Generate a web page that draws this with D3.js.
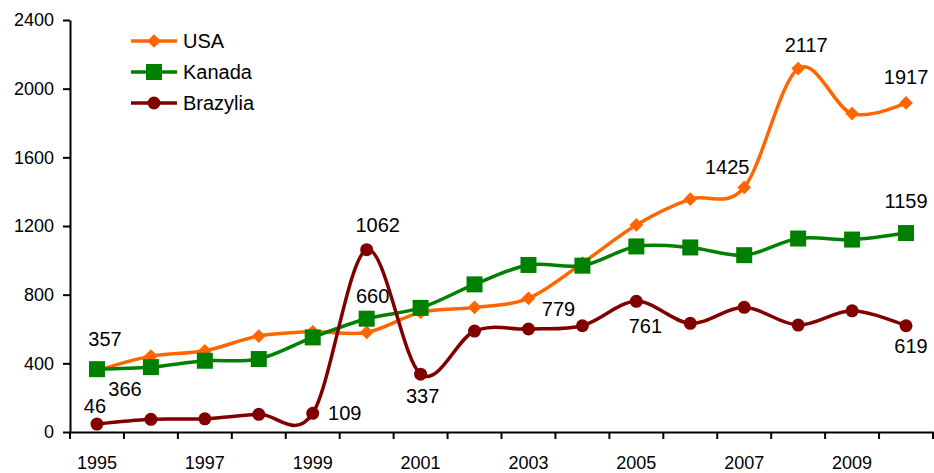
<!DOCTYPE html>
<html>
<head>
<meta charset="utf-8">
<script src="https://cdn.jsdelivr.net/npm/d3@7"></script>
<style>
  html, body { margin: 0; padding: 0; background: #fff; }
  svg { display: block; }
  svg text { font-family: "Liberation Sans", Arial, sans-serif; }
</style>
</head>
<body>
<svg id="chart"></svg>
<script>
const years = [1995, 1996, 1997, 1998, 1999, 2000, 2001, 2002, 2003, 2004, 2005, 2006, 2007, 2008, 2009, 2010];
const usa = [357, 442, 473, 559, 584, 580, 697, 726, 779, 984, 1206, 1356, 1425, 2117, 1855, 1917];
const kanada = [366, 378, 415, 425, 551, 660, 723, 860, 973, 969, 1081, 1075, 1030, 1127, 1121, 1159];
const brazylia = [46, 74, 77, 103, 109, 1062, 337, 588, 600, 619, 761, 633, 726, 623, 706, 619];
const yTicks = [0, 400, 800, 1200, 1600, 2000, 2400];

const series = [
  { name: 'USA', values: usa, color: '#FF6600', marker: 'diamond' },
  { name: 'Kanada', values: kanada, color: '#008000', marker: 'square' },
  { name: 'Brazylia', values: brazylia, color: '#800000', marker: 'circle' }
];

// which points carry a value label, and where the label sits relative to the point
const labels = [
  { s: 0, i: 0, dx: 8, dy: -25 },
  { s: 1, i: 0, dx: 28, dy: 27 },
  { s: 2, i: 0, dx: -2, dy: -11 },
  { s: 2, i: 4, dx: 32, dy: 7 },
  { s: 1, i: 5, dx: 6, dy: -16 },
  { s: 2, i: 5, dx: 11, dy: -18 },
  { s: 2, i: 6, dx: 2, dy: 29 },
  { s: 0, i: 8, dx: 30, dy: 18 },
  { s: 2, i: 10, dx: 9, dy: 32 },
  { s: 0, i: 12, dx: -17, dy: -13 },
  { s: 0, i: 13, dx: 8, dy: -17 },
  { s: 0, i: 15, dx: 0, dy: -19 },
  { s: 1, i: 15, dx: 0, dy: -25 },
  { s: 2, i: 15, dx: 5, dy: 27 }
];

const width = 934, height = 473;
const margin = { top: 20, right: 1, bottom: 41, left: 70 };
const chartWidth = width - margin.left - margin.right;
const chartHeight = height - margin.top - margin.bottom;

const svg = d3.select('#chart').attr('width', width).attr('height', height);
const g = svg.append('g').attr('transform', `translate(${margin.left},${margin.top})`);

const xScale = d3.scaleBand().domain(years).range([0, chartWidth]).padding(0);
const yScale = d3.scaleLinear().domain([0, 2400]).range([chartHeight, 0]);
const cx = d => xScale(d) + xScale.bandwidth() / 2;

// Axes
const xAxis = g.append('g')
  .attr('transform', `translate(0,${chartHeight})`)
  .call(d3.axisBottom(xScale).tickSize(0).tickFormat(d => (d - 1995) % 2 === 0 ? d : ''));
xAxis.select('.domain').attr('stroke', '#000').attr('stroke-width', 2);
xAxis.selectAll('text').attr('dy', 0).attr('y', 37).style('font-size', '18px').attr('fill', '#000');
// tick marks sit on band boundaries
xAxis.selectAll('.bound')
  .data(years.concat([null]))
  .join('line')
  .attr('class', 'bound')
  .attr('x1', (d, i) => i * xScale.bandwidth())
  .attr('x2', (d, i) => i * xScale.bandwidth())
  .attr('y1', 0).attr('y2', 7)
  .attr('stroke', '#000').attr('stroke-width', 2);

const yAxis = g.append('g')
  .call(d3.axisLeft(yScale).tickValues(yTicks).tickFormat(d3.format('d'))
    .tickSize(7).tickSizeOuter(0).tickPadding(9));
yAxis.select('.domain').attr('stroke', '#000').attr('stroke-width', 2);
yAxis.selectAll('line').attr('stroke', '#000').attr('stroke-width', 2);
yAxis.selectAll('text').style('font-size', '18px').attr('fill', '#000');

// Lines
const line = d3.line()
  .x((d, i) => cx(years[i]))
  .y(d => yScale(d))
  .curve(d3.curveCatmullRom.alpha(0));

const drawMarker = (sel, type, color, x, y) => {
  if (type === 'diamond') {
    sel.append('path')
      .attr('d', d3.symbol(d3.symbolDiamond2, 120)())
      .attr('transform', `translate(${x},${y})`)
      .attr('fill', color);
  } else if (type === 'square') {
    sel.append('rect')
      .attr('x', x - 8).attr('y', y - 8)
      .attr('width', 16).attr('height', 16)
      .attr('fill', color);
  } else {
    sel.append('circle')
      .attr('cx', x).attr('cy', y).attr('r', 6.5)
      .attr('fill', color);
  }
};

series.forEach(s => {
  g.append('path')
    .datum(s.values)
    .attr('fill', 'none')
    .attr('stroke', s.color)
    .attr('stroke-width', 3.5)
    .attr('d', line);
  const mg = g.append('g');
  s.values.forEach((v, i) => drawMarker(mg, s.marker, s.color, cx(years[i]), yScale(v)));
});

// Value labels
g.selectAll('.vlabel')
  .data(labels)
  .join('text')
  .attr('class', 'vlabel')
  .attr('x', d => cx(years[d.i]) + d.dx)
  .attr('y', d => yScale(series[d.s].values[d.i]) + d.dy)
  .attr('text-anchor', 'middle')
  .style('font-size', '20px')
  .attr('fill', '#000')
  .text(d => series[d.s].values[d.i]);

// Legend
const legend = svg.append('g').attr('transform', 'translate(131,41)');
series.forEach((s, k) => {
  const row = legend.append('g').attr('transform', `translate(0,${k * 31})`);
  row.append('line')
    .attr('x1', 0).attr('x2', 46).attr('y1', 0).attr('y2', 0)
    .attr('stroke', s.color).attr('stroke-width', 3.5);
  drawMarker(row, s.marker, s.color, 23, 0);
  row.append('text')
    .attr('x', 52).attr('y', 0).attr('dy', '0.36em')
    .style('font-size', '20px')
    .attr('fill', '#000')
    .text(s.name);
});
</script>
</body>
</html>
